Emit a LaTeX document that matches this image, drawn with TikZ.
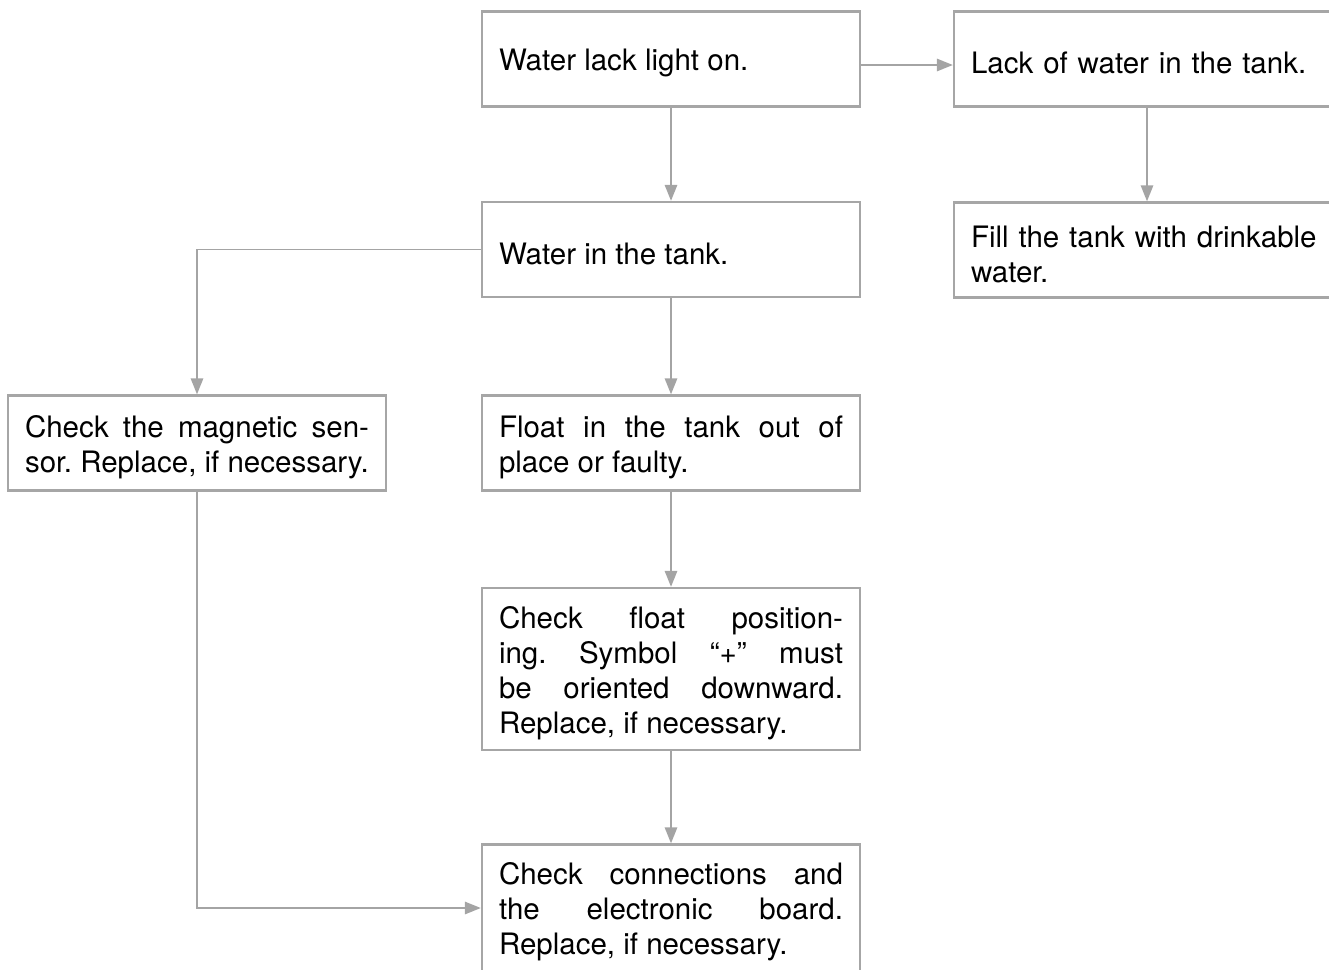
\documentclass[tikz,border=0pt]{standalone}
\usepackage{fontspec}
\setmainfont{TeX Gyre Heros}
\usetikzlibrary{arrows.meta}
\definecolor{boxgray}{HTML}{A6A6A6}
\definecolor{linegray}{HTML}{A4A4A4}
\tolerance=10000
\hbadness=10000
\frenchspacing
\tikzset{
  line/.style={draw=linegray, line width=1.5pt, -{Triangle[length=16pt,width=12.5pt]}},
  box/.style={
    draw=boxgray,
    line width=2.4pt,
    fill=white,
    align=justify,
    text width=344pt,
    text height=30pt,
    inner xsep=17pt,
    inner ysep=0pt,
    minimum height=95pt,
    font=\fontsize{29.5}{35}\selectfont
  },
  widebox/.style={box, text width=352pt, align=left}
}
\begin{document}
\begin{tikzpicture}[x=1pt,y=-1pt]
  \useasboundingbox (0,0) rectangle (1329,969);

  \node[box] (lacklight) at (671,59) {Water lack light on.};
  \node[widebox] (lackwater) at (1147,59) {Lack of water in the tank.};
  \node[box] (waterin) at (671,249.5) {Water in the tank.};
  \node[widebox] (fillwater) at (1147,250) {Fill the tank with drinkable\\water.};
  \node[box] (magsensor) at (197,443)
    {Check the magnetic sen-\linebreak sor. Replace, if necessary.};
  \node[box] (floatout) at (671,443)
    {Float in the tank out of\linebreak place or faulty.};
  \node[box, minimum height=162pt] (floatpos) at (671,669)
    {Check float position-\linebreak ing. Symbol “+” must\linebreak be oriented downward.\linebreak Replace, if necessary.};
  \node[box, minimum height=127pt] (checkboard) at (671,908)
    {Check connections and\linebreak the electronic board.\linebreak Replace, if necessary.};

  \draw[line] (lacklight) -- (waterin);
  \draw[line] ([yshift=-6pt]lacklight.east) -- ([yshift=-6pt]lackwater.west);
  \draw[line] (lackwater) -- (fillwater);
  \draw[line] (waterin.west) -| (magsensor.north);
  \draw[line] (waterin) -- (floatout);
  \draw[line] (floatout) -- (floatpos);
  \draw[line] (floatpos) -- (checkboard);
  \draw[line] (magsensor.south) |- (checkboard.west);
\end{tikzpicture}
\end{document}
